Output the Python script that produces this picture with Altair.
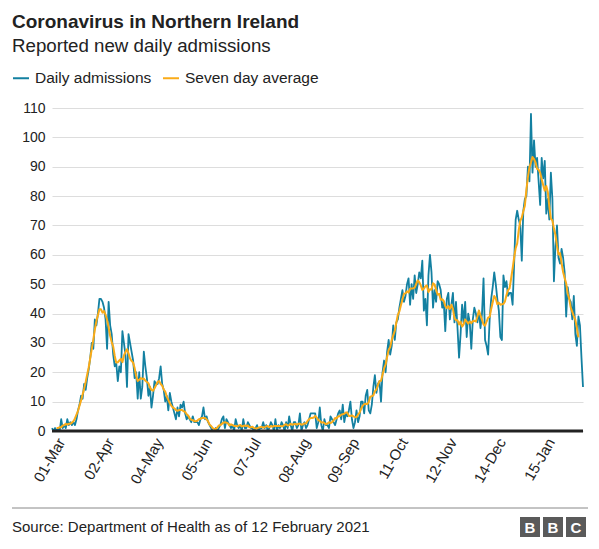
import altair as alt
import pandas as pd

# ---- data (daily admissions, 1 Mar 2020 - 11 Feb 2021) ----
mar = [1, 0, 1, 0, 1, 0, 4, 1, 2, 1, 4, 2, 3, 2, 3, 2, 4, 7, 9, 12, 11, 16, 14, 18, 21, 25, 30, 28, 38, 36, 40]
apr = [45, 45, 44, 42, 38, 28, 44, 36, 33, 26, 22, 23, 17, 22, 20, 34, 30, 26, 15, 33, 30, 27, 24, 18, 20, 11, 20, 11, 15, 27]
may = [22, 18, 12, 15, 8, 12, 17, 16, 16, 18, 22, 16, 14, 10, 12, 7, 13, 10, 8, 6, 4, 8, 5, 9, 8, 10, 6, 4, 5, 4, 3]
jun = [5, 3, 3, 3, 2, 4, 5, 8, 4, 5, 3, 2, 1, 0, 0, 1, 0, 1, 2, 4, 5, 1, 4, 3, 2, 1, 2, 0, 4, 2]
jul = [1, 2, 0, 4, 1, 1, 3, 2, 1, 1, 0, 1, 2, 0, 1, 1, 3, 1, 2, 0, 1, 3, 2, 0, 4, 0, 2, 1, 3, 2, 0]
aug = [3, 1, 5, 2, 0, 3, 3, 1, 2, 6, 0, 2, 3, 1, 2, 4, 6, 6, 6, 6, 1, 3, 8, 2, 0, 4, 2, 2, 1, 5, 4]
sep = [3, 2, 4, 6, 7, 4, 9, 3, 6, 5, 7, 10, 4, 1, 3, 7, 3, 5, 10, 10, 6, 12, 14, 7, 6, 9, 15, 19, 13, 16]
octo = [17, 10, 20, 24, 20, 27, 31, 26, 29, 36, 31, 37, 38, 42, 45, 48, 44, 46, 50, 52, 43, 50, 45, 53, 47, 50, 54, 52, 58, 41, 45]
nov = [36, 53, 60, 54, 42, 48, 44, 51, 50, 48, 42, 44, 34, 45, 47, 38, 43, 47, 37, 44, 35, 25, 33, 43, 37, 44, 32, 40, 37, 28]
dec = [38, 42, 40, 37, 41, 35, 40, 52, 31, 29, 26, 38, 45, 49, 54, 50, 45, 41, 32, 31, 53, 49, 51, 46, 47, 47, 43, 57, 72, 75, 72]
jan = [70, 58, 75, 79, 80, 90, 85, 108, 88, 99, 90, 93, 85, 77, 93, 86, 92, 74, 79, 72, 88, 79, 51, 63, 70, 59, 57, 62, 59, 54, 39]
feb = [49, 45, 44, 38, 46, 33, 29, 39, 36, 25, 15]

daily = mar + apr + may + jun + jul + aug + sep + octo + nov + dec + jan + feb
dates = pd.date_range("2020-03-01", periods=len(daily), freq="D").strftime("%Y-%m-%d").tolist()

series_names = ["Daily admissions", "Seven day average"]
series_colors = ["#1380A1", "#FAAB18"]
tick_dates = [(2020, 3, 1), (2020, 4, 2), (2020, 5, 4), (2020, 6, 5), (2020, 7, 7), (2020, 8, 8),
              (2020, 9, 9), (2020, 10, 11), (2020, 11, 12), (2020, 12, 14), (2021, 1, 15)]
y_ticks = [0, 10, 20, 30, 40, 50, 60, 70, 80, 90, 100, 110]

title_text = "Coronavirus in Northern Ireland"
subtitle_text = "Reported new daily admissions"
source_text = "Source: Department of Health as of 12 February 2021"

FONT = "Liberation Sans, Arial, Helvetica, sans-serif"
W, H = 531, 323

df = pd.DataFrame({"date": dates, "value": daily})


def dt(t):
    return alt.DateTime(year=t[0], month=t[1], date=t[2], utc=True)


x_scale = alt.Scale(type="utc", domain=[dt((2020, 3, 1)), dt((2021, 2, 11))], nice=False)
x_axis = alt.Axis(values=[dt(t) for t in tick_dates], format="%d-%b", labelAngle=300,
                  labelAlign="right", labelBaseline="middle",
                  labelFontSize=15, labelColor="#222222", labelFont=FONT, grid=False,
                  domain=False, ticks=False, labelPadding=8, labelOffset=9,
                  labelOverlap=False, title=None)
y_scale = alt.Scale(domain=[0, 110], nice=False)
y_axis = alt.Axis(values=y_ticks, labelFontSize=14, labelColor="#222222", labelFont=FONT,
                  grid=True, gridColor="#dddddd", gridWidth=1, domain=False, ticks=False,
                  labelPadding=7, labelOverlap=False, title=None)
color_scale = alt.Scale(domain=series_names, range=series_colors)
legend = alt.Legend(orient="none", legendX=-40, legendY=-39, direction="horizontal",
                    title=None, symbolType="stroke", symbolStrokeWidth=2, symbolSize=256,
                    labelFontSize=15.5, labelFont=FONT, labelColor="#222222",
                    columnPadding=7, symbolOffset=0, labelOffset=5)

base = alt.Chart(df)

daily_line = base.transform_calculate(series="'Daily admissions'").mark_line(
    strokeWidth=1.8, strokeJoin="round"
).encode(
    x=alt.X("date:T", scale=x_scale, axis=x_axis),
    y=alt.Y("value:Q", scale=y_scale, axis=y_axis),
    color=alt.Color("series:N", scale=color_scale, legend=legend),
)

avg_line = base.transform_window(
    avg="mean(value)", n="count()", frame=[-3, 3], sort=[alt.SortField("date")]
).transform_filter("datum.n == 7").transform_calculate(
    series="'Seven day average'"
).mark_line(strokeWidth=2, strokeJoin="round").encode(
    x=alt.X("date:T", scale=x_scale, axis=x_axis),
    y=alt.Y("avg:Q", scale=y_scale, axis=y_axis),
    color=alt.Color("series:N", scale=color_scale, legend=legend),
)

baseline = alt.Chart(pd.DataFrame({"y": [0]})).mark_rule(color="#222222", strokeWidth=3).encode(
    y=alt.Y("y:Q", scale=y_scale, axis=y_axis), x=alt.value(0), x2=alt.value(W)
)

one = pd.DataFrame({"a": [0]})
title = alt.Chart(one).mark_text(text=title_text, font=FONT, fontSize=19, fontWeight="bold",
                                 align="left", baseline="alphabetic", color="#222222").encode(
    x=alt.value(-40), y=alt.value(-80))
subtitle = alt.Chart(one).mark_text(text=subtitle_text, font=FONT, fontSize=18.7,
                                    align="left", baseline="alphabetic", color="#222222").encode(
    x=alt.value(-40), y=alt.value(-56))
footer_rule = alt.Chart(one).mark_rule(color="#888888", strokeWidth=1).encode(
    x=alt.value(-40), x2=alt.value(536), y=alt.value(400))
source = alt.Chart(one).mark_text(text=source_text, font=FONT, fontSize=15,
                                  align="left", baseline="alphabetic", color="#222222").encode(
    x=alt.value(-40), y=alt.value(424))

logo_layers = []
for i, letter in enumerate(["B", "B", "C"]):
    x0 = 468 + i * 23
    logo_layers.append(alt.Chart(one).mark_rect(color="#5a5a5a").encode(
        x=alt.value(x0), x2=alt.value(x0 + 20), y=alt.value(409), y2=alt.value(429)))
    logo_layers.append(alt.Chart(one).mark_text(text=letter, font=FONT, fontSize=15,
                                                fontWeight="bold", color="white",
                                                align="center", baseline="middle").encode(
        x=alt.value(x0 + 10), y=alt.value(420)))

chart = alt.layer(
    daily_line, avg_line, baseline, title, subtitle, footer_rule, source, *logo_layers
).properties(
    width=W, height=H,
    autosize=alt.AutoSizeParams(type="none"),
    padding={"left": 44, "top": 100, "right": 8, "bottom": 110},
).configure_view(stroke=None)

chart.save("out.html", embed_options={"renderer": "svg", "actions": False})
